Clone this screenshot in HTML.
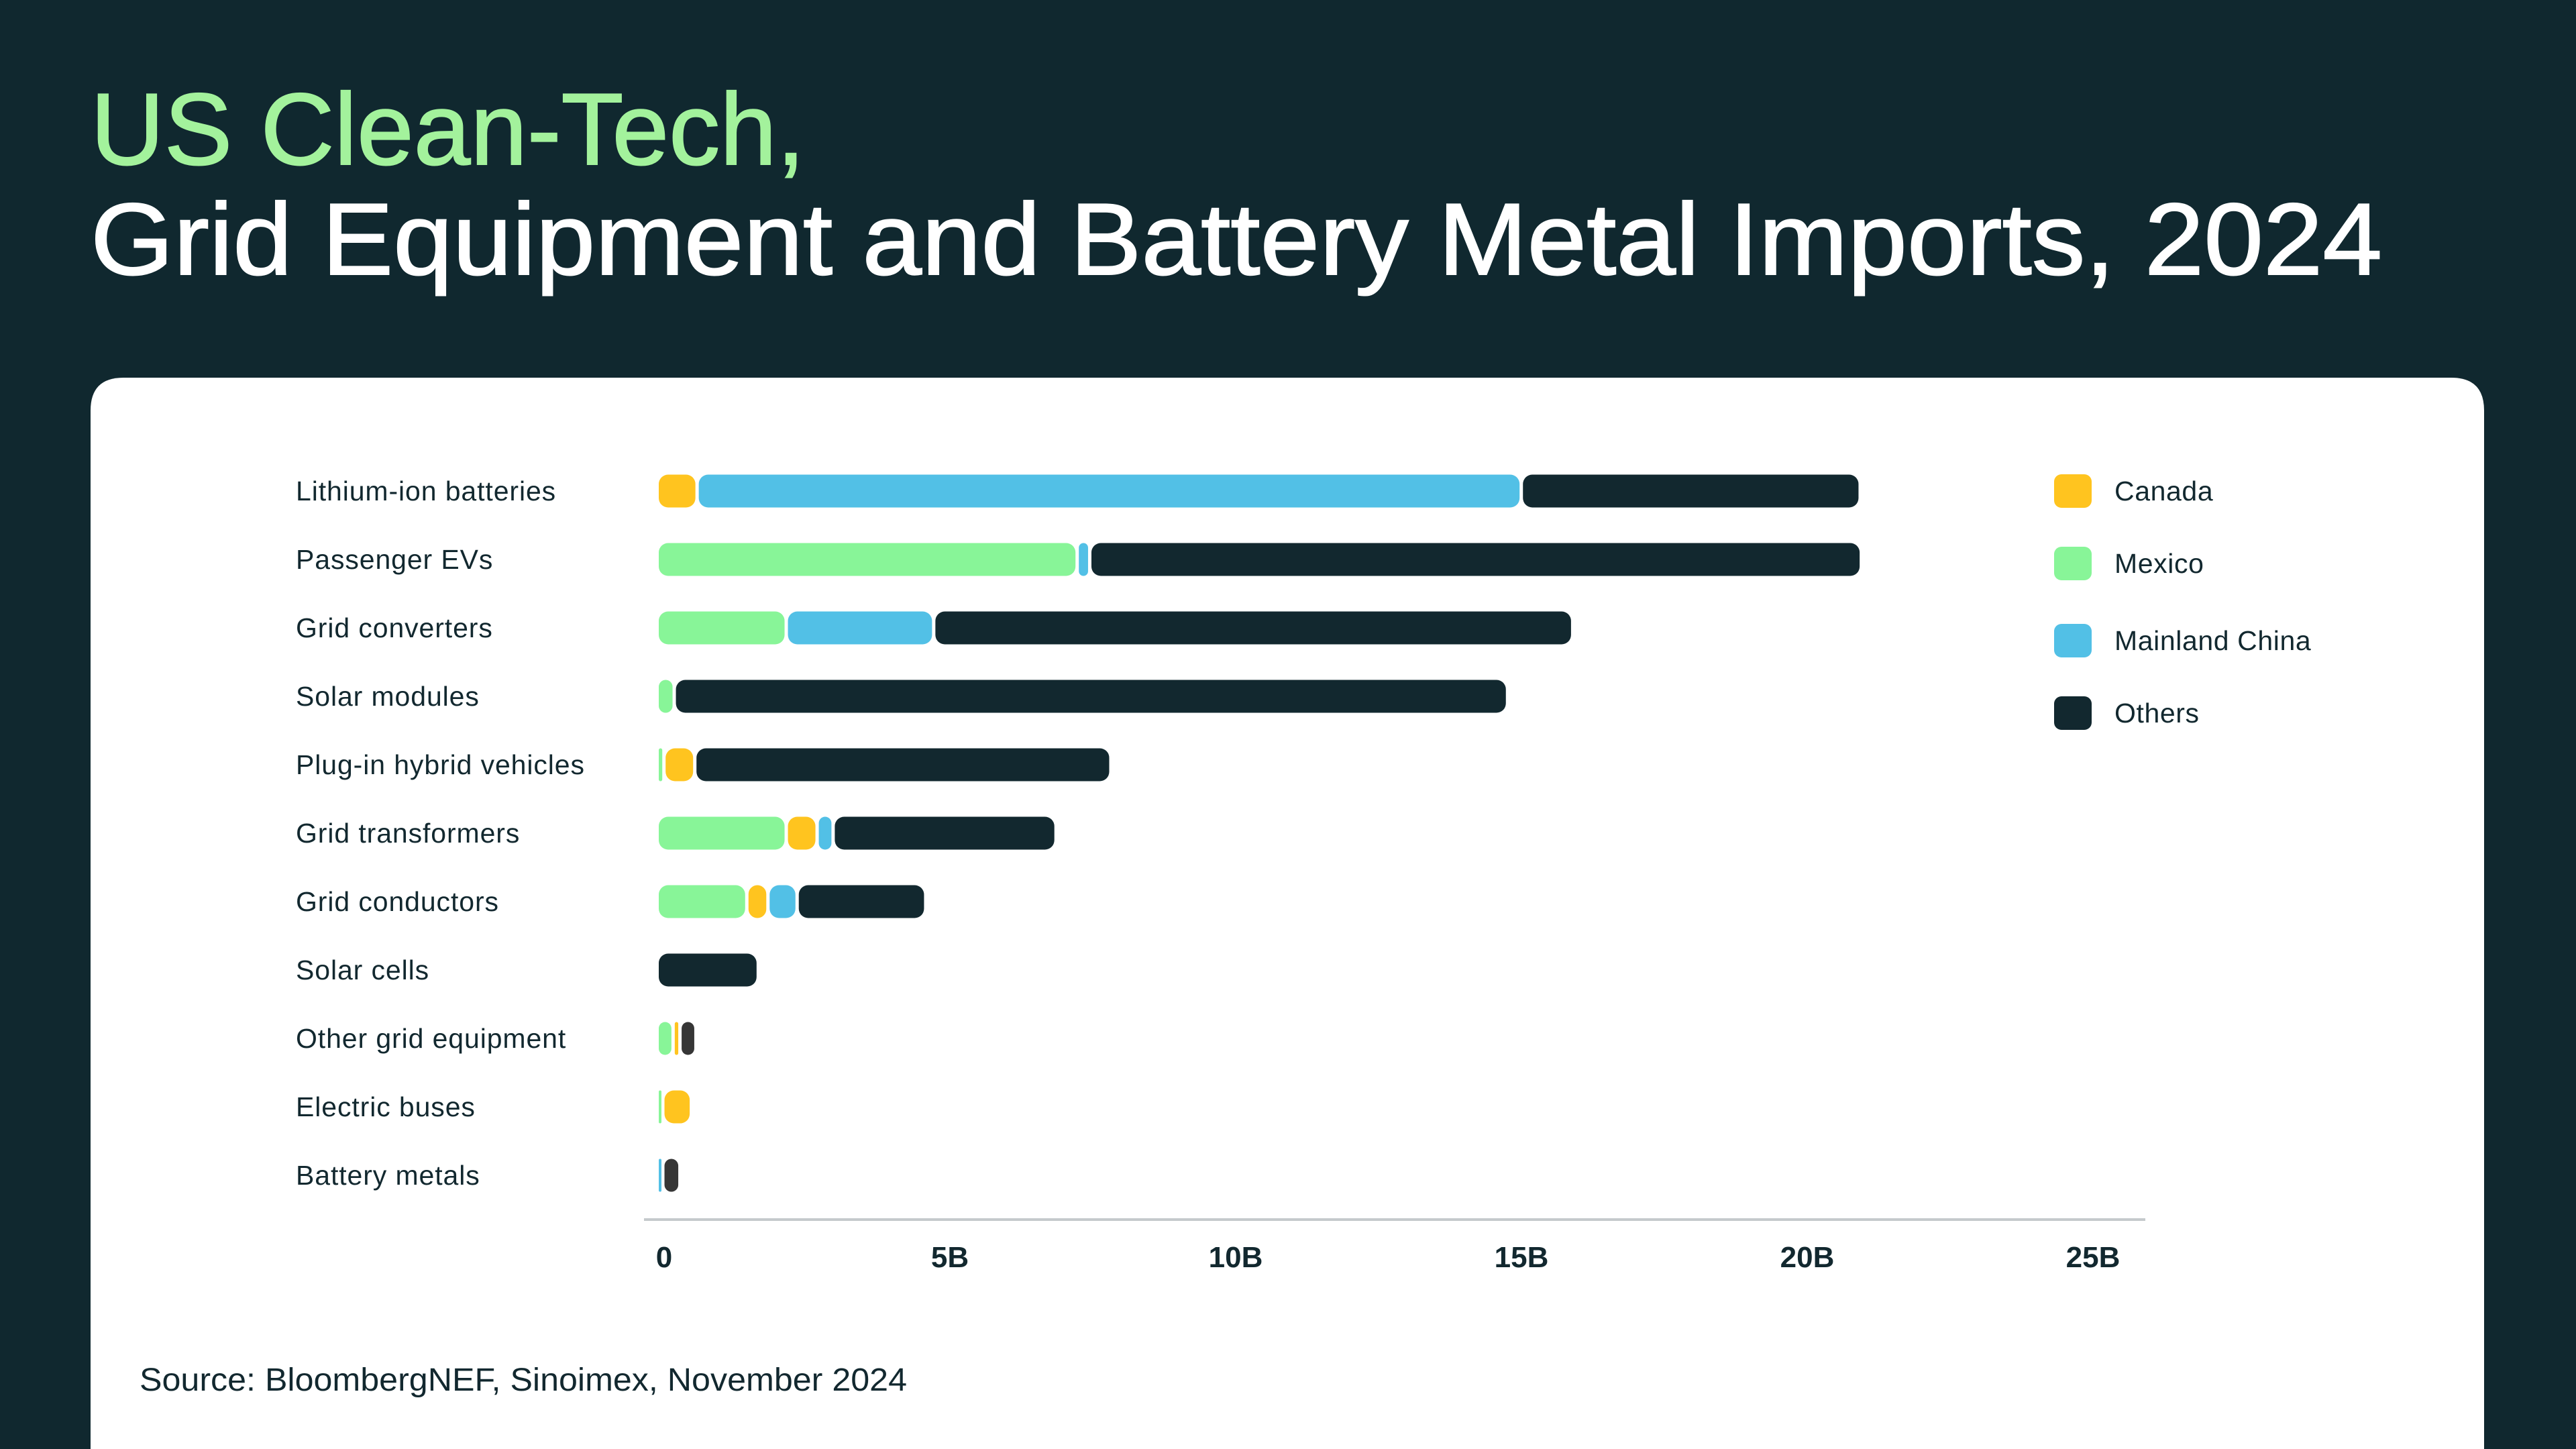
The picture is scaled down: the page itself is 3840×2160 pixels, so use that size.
<!DOCTYPE html>
<html><head><meta charset="utf-8"><style>
html,body{margin:0;padding:0;background:#10282F;}
svg{display:block;font-family:"Liberation Sans",sans-serif;}
</style></head><body>
<svg id="chart" width="3840" height="2160" viewBox="0 0 3840 2160" xmlns="http://www.w3.org/2000/svg">
<rect x="0" y="0" width="3840" height="2160" fill="#10282F"/>
<text x="135" y="245" font-size="152" font-weight="500" fill="#A3F29C" stroke="#A3F29C" stroke-width="2" textLength="1065" lengthAdjust="spacingAndGlyphs">US Clean-Tech,</text>
<text x="135" y="409" font-size="152" font-weight="500" fill="#FFFFFF" stroke="#FFFFFF" stroke-width="2" textLength="3416" lengthAdjust="spacingAndGlyphs">Grid Equipment and Battery Metal Imports, 2024</text>
<path d="M184,563 H3654 Q3703,563 3703,612 V2160 H135 V612 Q135,563 184,563 Z" fill="#FFFFFF"/>
<g id="labels"></g>
<g id="bars"></g>
<line x1="960" y1="1818" x2="3198" y2="1818" stroke="#C5CACC" stroke-width="4"/>
<g id="ticks"></g>
<g id="legend"></g>
<text x="208" y="2073" font-size="48" fill="#12282F" textLength="1144" lengthAdjust="spacingAndGlyphs">Source: BloombergNEF, Sinoimex, November 2024</text>
</svg>
<script>
const categories = ["Lithium-ion batteries","Passenger EVs","Grid converters","Solar modules","Plug-in hybrid vehicles","Grid transformers","Grid conductors","Solar cells","Other grid equipment","Electric buses","Battery metals"];
const seriesNames = ["Mexico","Canada","Mainland China","Others"];
const mexico = [0, 7.35, 2.26, 0.3, 0.12, 2.26, 1.57, 0, 0.28, 0.1, 0];
const canada = [0.7, 0, 0, 0, 0.54, 0.54, 0.37, 0, 0.12, 0.5, 0];
const china  = [14.42, 0.22, 2.58, 0, 0, 0.28, 0.51, 0, 0, 0, 0.1];
const others = [5.93, 13.5, 11.18, 14.58, 7.28, 3.9, 2.25, 1.77, 0.28, 0, 0.3];
const tickValues = [0, 5, 10, 15, 20, 25];
const tickLabels = ["0","5B","10B","15B","20B","25B"];
const legendNames = ["Canada","Mexico","Mainland China","Others"];

const NS = "http://www.w3.org/2000/svg";
const colors = {"Mexico":"#88F598","Canada":"#FFC41F","Mainland China":"#52C0E6","Others":"#12282F"};
const x0 = 982, pxPerB = 85.2;
function xScale(v){ return x0 + v * pxPerB; }
function yScale(i){ return 732 + i * 102; }
const barH = 49, gap = 5;

function mk(tag, attrs, parent){
  const e = document.createElementNS(NS, tag);
  for (const k in attrs) e.setAttribute(k, attrs[k]);
  parent.appendChild(e);
  return e;
}
const gL = document.getElementById('labels');
const gB = document.getElementById('bars');
const gT = document.getElementById('ticks');
const gG = document.getElementById('legend');

categories.forEach((c, i) => {
  const t = mk('text', {x: 441, y: yScale(i) + 14, 'font-size': 41, 'letter-spacing': 0.9, fill: '#12282F'}, gL);
  
  
  t.textContent = c;
  const vals = [mexico[i], canada[i], china[i], others[i]];
  let acc = 0;
  vals.forEach((v, s) => {
    if (v <= 0) return;
    const xa = xScale(acc), xb = xScale(acc + v);
    acc += v;
    const w = Math.max(xb - xa - gap, 4);
    let col = colors[seriesNames[s]];
    if (seriesNames[s] === 'Others' && v < 0.5) col = '#363636';
    const r = mk('rect', {x: xa, y: yScale(i) - barH / 2, width: w, height: barH, rx: Math.min(14, w / 2), fill: col}, gB);
    
    
  });
});

tickValues.forEach((v, i) => {
  const t = mk('text', {x: xScale(v) + 8, y: 1889, 'font-size': 44, 'font-weight': 'bold', fill: '#12282F', 'text-anchor': 'middle'}, gT);
  
  
  t.textContent = tickLabels[i];
});

const legendY = [732, 840, 955, 1063];
legendNames.forEach((n, i) => {
  const r = mk('rect', {x: 3062, y: legendY[i] - 25, width: 56, height: 50, rx: 11, fill: colors[n]}, gG);
  
  
  const t = mk('text', {x: 3152, y: legendY[i] + 14, 'font-size': 41, 'letter-spacing': 0.6, fill: '#12282F'}, gG);
  
  
  t.textContent = n;
});
</script>
</body></html>
